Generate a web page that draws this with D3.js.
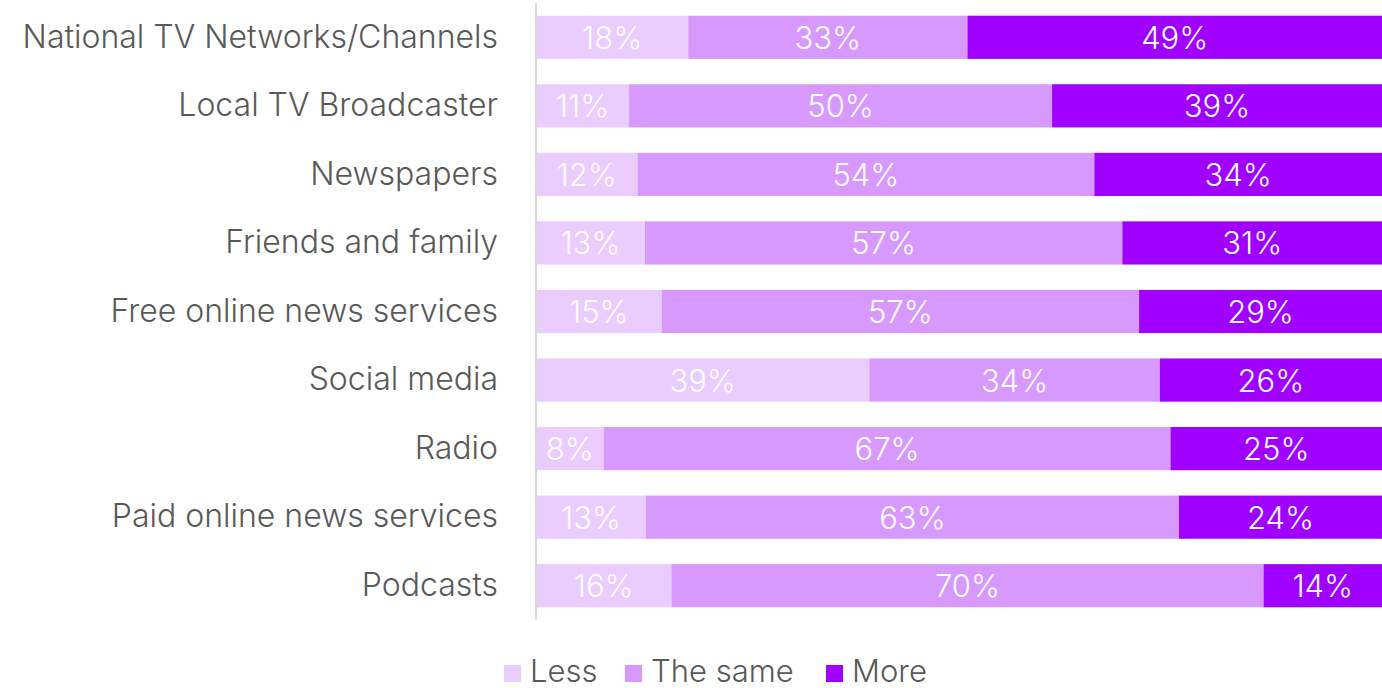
<!DOCTYPE html>
<html>
<head>
<meta charset="utf-8">
<script src="https://cdn.jsdelivr.net/npm/d3@7"></script>
<style>
  html, body { margin: 0; padding: 0; background: #fff; }
  svg { display: block; font-family: Inter, Roboto, sans-serif; }
</style>
</head>
<body>
<svg id="chart" width="1382" height="688"></svg>
<script>
// News sources: share of respondents trusting each source less / the same / more
const categories = [
  "National TV Networks/Channels",
  "Local TV Broadcaster",
  "Newspapers",
  "Friends and family",
  "Free online news services",
  "Social media",
  "Radio",
  "Paid online news services",
  "Podcasts"
];
const seriesNames = ["Less", "The same", "More"];
const lessValues = [18, 11, 12, 13, 15, 39, 8, 13, 16];
const sameValues = [33, 50, 54, 57, 57, 34, 67, 63, 70];
const moreValues = [49, 39, 34, 31, 29, 26, 25, 24, 14];
const seriesColors = ["#ebccff", "#d899ff", "#a000ff"];

const rows = categories.map((c, i) => ({
  category: c,
  "Less": lessValues[i],
  "The same": sameValues[i],
  "More": moreValues[i]
}));

const svg = d3.select("#chart");
const plotLeft = 536, plotRight = 1382, plotTop = 3, plotBottom = 620;
const fontFamily = "Inter, Roboto, sans-serif";

const stack = d3.stack().keys(seriesNames).offset(d3.stackOffsetExpand);
const layers = stack(rows);

const x = d3.scaleLinear().domain([0, 1]).range([plotLeft, plotRight]);
const y = d3.scaleBand().domain(categories).range([plotTop, plotBottom])
  .paddingInner(0.37).paddingOuter(0.185);
const color = d3.scaleOrdinal().domain(seriesNames).range(seriesColors);

// stacked bars with centred percentage labels
const g = svg.append("g");
layers.forEach(layer => {
  const lg = g.append("g").attr("fill", color(layer.key));
  lg.selectAll("rect").data(layer).join("rect")
    .attr("x", d => x(d[0]))
    .attr("y", d => y(d.data.category))
    .attr("width", d => x(d[1]) - x(d[0]))
    .attr("height", y.bandwidth());
  lg.selectAll("text").data(layer).join("text")
    .attr("x", d => (x(d[0]) + x(d[1])) / 2)
    .attr("y", d => y(d.data.category) + y.bandwidth() / 2)
    .attr("dy", "0.37em")
    .attr("text-anchor", "middle")
    .attr("fill", "#fff")
    .attr("font-family", fontFamily)
    .attr("font-size", 31)
    .attr("font-weight", 300)
    .text(d => d.data[layer.key] + "%");
});

// category axis
const yAxis = d3.axisLeft(y).tickSize(0).tickPadding(38);
const ag = svg.append("g").attr("transform", `translate(${plotLeft},0)`).call(yAxis);
ag.select(".domain").attr("stroke", "#d9d9d9").attr("stroke-width", 2)
  .attr("d", `M0,${plotTop}V${plotBottom}`);
ag.selectAll(".tick text")
  .attr("fill", "#595959")
  .attr("font-size", 32)
  .attr("font-weight", 300)
  .attr("font-family", fontFamily);

// legend
const legendX = [504, 625, 826];
const lgd = svg.append("g");
seriesNames.forEach((name, i) => {
  lgd.append("rect")
    .attr("x", legendX[i]).attr("y", 665)
    .attr("width", 17).attr("height", 17)
    .attr("fill", color(name));
  lgd.append("text")
    .attr("x", legendX[i] + 26).attr("y", 682)
    .attr("fill", "#595959")
    .attr("font-family", fontFamily)
    .attr("font-size", 31)
    .attr("font-weight", 300)
    .text(name);
});
</script>
</body>
</html>
